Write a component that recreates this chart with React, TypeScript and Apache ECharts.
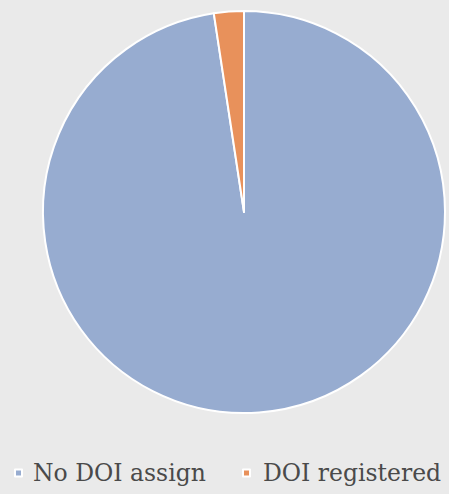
import React, { useEffect, useRef } from "react";
import * as echarts from "echarts";

const categories = ["No DOI assign", "DOI registered"];
const values = [97.6, 2.4];
const colors = ["#97acd0", "#e8915b"];
const legendLefts = [14, 242];
const legendPads = [6, 8];

export default function App() {
  const ref = useRef<HTMLDivElement>(null);
  useEffect(() => {
    if (!ref.current) return;
    const chart = echarts.init(ref.current, undefined, { renderer: "svg" });
    chart.setOption({
      animation: false,
      backgroundColor: "#eaeaea",
      color: colors,
      textStyle: { fontFamily: "DejaVu Serif" },
      legend: categories.map((name, i) => ({
        data: [name],
        left: legendLefts[i],
        top: 461,
        padding: 0,
        itemWidth: 7,
        itemHeight: 7,
        icon: "rect",
        textStyle: {
          fontFamily: "DejaVu Serif",
          fontSize: 23.5,
          color: "#4a4a4a",
          padding: [0, 0, 0, legendPads[i]],
        },
      })),
      series: [
        {
          type: "pie",
          center: [244, 212],
          radius: 201,
          startAngle: 90,
          clockwise: true,
          label: { show: false },
          labelLine: { show: false },
          itemStyle: { borderColor: "#ffffff", borderWidth: 2 },
          emphasis: { disabled: true },
          data: categories.map((name, i) => ({ name, value: values[i] })),
        },
      ],
    });
    return () => chart.dispose();
  }, []);
  return (
    <div
      ref={ref}
      style={{ position: "fixed", left: 0, top: 0, width: 449, height: 494 }}
    />
  );
}
